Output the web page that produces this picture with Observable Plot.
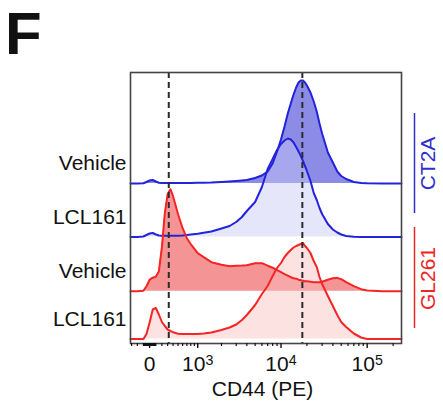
<!DOCTYPE html>
<html><head><meta charset="utf-8">
<script src="https://cdn.jsdelivr.net/npm/d3@7"></script>
<script src="https://cdn.jsdelivr.net/npm/@observablehq/plot@0.6"></script>
<style>body{margin:0;background:#fff}</style>
</head><body><div id="chart"></div>
<script>
// CD44 (PE) fluorescence sample points
const cd44 = [-320,-300,-200,-100,-50,0,50,100,150,200,250,300,350,400,450,500,600,700,800,1000,1200,1500,2000,2500,3000,3500,4000,5000,6000,7000,8000,9000,10000,11000,12000,13000,14000,15000,16000,17000,18000,19000,20000,22000,24000,26000,28000,30000,35000,40000,45000,50000,57000,70000,85000,100000,150000,200000,250000];
// histogram heights (normalized counts) per sample
const ct2aVehicle = [0,0,0,0.3,1.5,3,3.5,2,0.8,0.5,0.5,0.5,0.5,0.5,0.5,0.5,0.5,0.6,0.6,0.7,0.8,1,1.5,2,2.5,3,3.5,5.5,8,12,20,32,44,57,70,80,89,96,101,103,103,101,98,91,82,72,60,50,31,21,12,7.5,4.5,1.5,0.6,0.3,0,0,0];
const ct2aLCL161 = [0,0,0,0.5,2,3.5,4,2.5,1.5,1.2,1.2,1.2,1.2,1.2,1.3,1.3,1.5,2,2.5,3.3,4.3,5.5,8.5,11,15,20,26,35,50,68,78,87,93,96.5,98.5,97.5,94.5,90,85.5,81,76,71,66,56,44,37,29,23,13,7.5,4.5,2.5,1,0.3,0,0,0,0,0];
const gl261Vehicle = [0,0,0,0.5,5,11.5,13.5,14.5,20,44,78,97,102,95,86,77,63,53,47,38,34,29,26.5,25,25.5,25.7,26,28,28,25.5,23.5,21,19,17,15.5,14,13,12.5,11.5,11,10.5,10,10,9.5,9,9,9,9.5,11.5,13,13.3,12,9,5,2,0.7,0,0,0];
const gl261LCL161 = [0,0,0,0,5,16.5,29.5,31,24.5,17,13,9.5,8,6.8,6,5.3,5,5,5,5,5.5,6.5,9,11.5,14.5,19,24,34,45,53,63,71,76,82,86,89,91.5,93,94,95,96,93,91,86,78,72,62,55,43,33,24,17,12,5.5,1.5,0,0,0,0];
const rowLabels = ["Vehicle","LCL161","Vehicle","LCL161"];
const groupLabels = ["CT2A","GL261"];
const majorTicks = [0, 1e3, 1e4, 1e5];
const majorTickLabels = ["0","10³","10⁴","10⁵"];
const gates = [320, 17700];

// biexponential-like display transform
const T = v => Math.asinh(v / 600);
const xMin = -320, xMax = 250000;
const offsets = [160, 106.5, 52.3, 4.5];
const blue = "#2323dc", red = "#f52525";
const styles = [
  {fill: "#8c8ce6", op: 1, stroke: blue},
  {fill: "rgb(200,200,247)", op: 0.45, stroke: blue},
  {fill: "#f49494", op: 1, stroke: red},
  {fill: "rgb(251,190,190)", op: 0.45, stroke: red}
];
const allSeries = [ct2aVehicle, ct2aLCL161, gl261Vehicle, gl261LCL161];
const tables = allSeries.map((h, i) => cd44.map((v, j) => ({x: T(v), y1: offsets[i], y2: offsets[i] + h[j]})));

const minor = [];
for (let k = -90; k <= 90; k += 10) if (k !== 0) minor.push(k);
for (let k = -300; k <= 900; k += 100) if (k !== 0 && Math.abs(k) >= 100) minor.push(k);
for (const p of [1e3, 1e4, 1e5]) for (let k = 2; k <= 9; k++) if (k * p <= xMax) minor.push(k * p);
const labelOf = d => { const i = majorTicks.findIndex(t => Math.abs(T(t) - d) < 1e-9); return i >= 0 ? majorTickLabels[i] : ""; };

const groups = [
  {label: groupLabels[0], y1: 130, y2: 230, yc: 180, color: "#3030cc"},
  {label: groupLabels[1], y1: 15, y2: 116, yc: 65, color: "#ee2626"}
];

const marks = [];
tables.forEach((t, i) => marks.push(Plot.areaY(t, {x: "x", y1: "y1", y2: "y2", fill: styles[i].fill, fillOpacity: styles[i].op, curve: "linear"})));
tables.forEach((t, i) => marks.push(Plot.line(t, {x: "x", y: "y2", stroke: styles[i].stroke, strokeWidth: 2, curve: "linear"})));
marks.push(
  Plot.ruleX(gates.map(T), {stroke: "#2a2a2a", strokeWidth: 2, strokeDasharray: "6,4"}),
  Plot.frame({stroke: "#444", strokeWidth: 1.6}),
  Plot.axisX(minor.map(T), {tickSize: 3, tickFormat: () => "", label: null, strokeWidth: 1.2}),
  Plot.axisX(majorTicks.map(T), {tickSize: 5, tickPadding: 8, tickFormat: labelOf, label: null, fontSize: 21, strokeWidth: 1.4}),
  Plot.text(["CD44 (PE)"], {frameAnchor: "bottom", dx: -3.5, dy: 46, lineAnchor: "middle", fontSize: 21}),
  Plot.text(rowLabels, {frameAnchor: "left", y: (d, i) => offsets[i] + 20, dx: -4, textAnchor: "end", lineAnchor: "middle", fontSize: 21}),
  Plot.ruleX(groups, {x: () => T(xMax), y1: "y1", y2: "y2", stroke: "color", dx: 13, strokeWidth: 1.5}),
  Plot.text(groups, {frameAnchor: "right", y: "yc", text: "label", fill: "color", rotate: -90, dx: 27, textAnchor: "middle", lineAnchor: "middle", fontSize: 21}),
  Plot.text(["F"], {frameAnchor: "top-left", dx: -125.5, dy: -19, lineAnchor: "bottom", textAnchor: "start", fontSize: 60, fontWeight: "bold"})
);

const chart = Plot.plot({
  width: 443, height: 407,
  marginLeft: 130, marginRight: 42, marginTop: 72, marginBottom: 64,
  x: {type: "linear", domain: [T(xMin), T(xMax)]},
  y: {type: "linear", domain: [0, 271], axis: null},
  style: {fontFamily: "'Liberation Sans', Arial, sans-serif", color: "#111", background: "white", overflow: "visible"},
  marks
});
// render the exponent as a real superscript
const supMap = {"³": "3", "⁴": "4", "⁵": "5"};
d3.select(chart).selectAll("text").each(function () {
  const s = this.textContent;
  const m = s.match(/^10([³⁴⁵])$/);
  if (!m) return;
  const el = d3.select(this);
  el.text(null);
  el.append("tspan").text("10");
  el.append("tspan").attr("dy", "-0.42em").attr("font-size", "0.68em").text(supMap[m[1]]);
});
document.getElementById("chart").appendChild(chart);
</script>
</body></html>
